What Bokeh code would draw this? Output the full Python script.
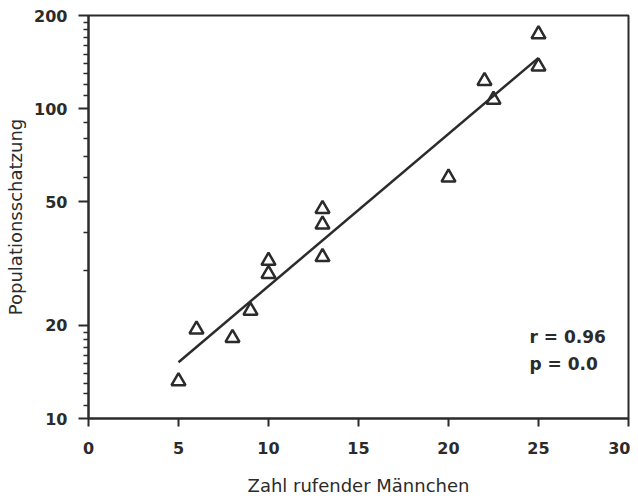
from bokeh.plotting import figure
from bokeh.models import Range1d, FixedTicker, Label, ColumnDataSource
from bokeh.embed import file_html
from bokeh.resources import INLINE

# data
males = [5, 6, 8, 9, 10, 10, 13, 13, 13, 20, 22, 22.5, 25, 25]
estimate = [13.2, 19.4, 18.2, 22.3, 32.3, 29.3, 47.5, 42.3, 33.2, 60.0, 123, 107, 174, 137]
fit_x = [5, 25]
fit_y = [15.2, 146]
y_major = [10, 20, 50, 100, 200]
x_major = [0, 5, 10, 15, 20, 25, 30]
stats = ["r = 0.96", "p = 0.0"]
stats_x = [24.5, 24.5]
stats_y = [18.3, 15.0]

ink = "#2b2b2b"
FONT = "DejaVu Sans"

minor = [v for v in range(11, 20)] + [30, 40] + [60, 70, 80, 90] + [v for v in range(110, 200, 10)]

p = figure(width=630, height=501, x_range=Range1d(0, 30), y_range=Range1d(10, 200),
           y_axis_type="log", output_backend="svg", toolbar_location=None,
           min_border_left=88, min_border_right=2, min_border_top=15, min_border_bottom=83)
p.background_fill_color = "white"
p.border_fill_color = "white"
p.grid.visible = False
p.outline_line_color = ink
p.outline_line_width = 2

p.xaxis.ticker = FixedTicker(ticks=x_major, minor_ticks=[])
p.yaxis.ticker = FixedTicker(ticks=y_major, minor_ticks=minor)

for ax in (p.xaxis, p.yaxis):
    ax.axis_line_color = ink
    ax.axis_line_width = 2
    ax.major_tick_line_color = ink
    ax.major_tick_line_width = 2
    ax.minor_tick_line_color = ink
    ax.minor_tick_line_width = 1.5
    ax.major_label_text_font = FONT
    ax.major_label_text_font_size = "16px"
    ax.major_label_text_font_style = "bold"
    ax.major_label_text_color = ink
    ax.axis_label_text_font = FONT
    ax.axis_label_text_font_size = "18px"
    ax.axis_label_text_font_style = "normal"
    ax.axis_label_text_color = ink

p.xaxis.major_tick_in = 0
p.xaxis.major_tick_out = 8
p.xaxis.major_label_standoff = 15
p.xaxis.axis_label = "Zahl rufender Männchen"
p.xaxis.axis_label_standoff = 18

p.yaxis.major_tick_in = 0
p.yaxis.major_tick_out = 10
p.yaxis.minor_tick_in = 0
p.yaxis.minor_tick_out = 5
p.yaxis.major_label_standoff = 11
p.yaxis.axis_label = "Populationsschatzung"
p.yaxis.axis_label_standoff = 5

src = ColumnDataSource(dict(x=males, y=estimate))
p.scatter("x", "y", source=src, marker="triangle", size=14, fill_color=None,
          line_color=ink, line_width=2.5)
p.line(fit_x, fit_y, line_color=ink, line_width=2.5)

for t, lx, ly in zip(stats, stats_x, stats_y):
    p.add_layout(Label(x=lx, y=ly, text=t, text_font=FONT, text_font_size="17px",
                       text_font_style="bold", text_color=ink, text_baseline="middle"))

open("out.html", "w").write(file_html(p, INLINE))
